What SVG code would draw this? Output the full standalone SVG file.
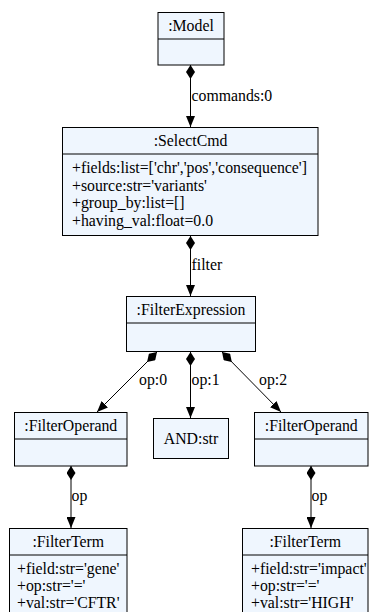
<svg xmlns="http://www.w3.org/2000/svg" width="377" height="612" viewBox="0 0 377 612">
<style>
.box{fill:#eff6fe;stroke:#000;stroke-width:1}
.t{font-family:'Liberation Serif','Times New Roman',serif;font-size:15.8px;fill:#000}
.c{text-anchor:middle}
.e{stroke:#000;stroke-width:1;fill:none;marker-start:url(#dia);marker-end:url(#arr)}
</style>
<defs>
<marker id="dia" viewBox="0 0 14 9" refX="0" refY="4.5" markerWidth="14" markerHeight="9" markerUnits="userSpaceOnUse" orient="auto"><path d="M0,4.5 L7,0 L14,4.5 L7,9 Z" fill="#000"/></marker>
<marker id="arr" viewBox="0 0 11 9" refX="11" refY="4.5" markerWidth="11" markerHeight="9" markerUnits="userSpaceOnUse" orient="auto"><path d="M0,0 L11,4.5 L0,9 Z" fill="#000"/></marker>
</defs>
<g id="edges">
<path class="e" d="M190.5,65 L190.5,127"/>
<text class="t" x="191.5" y="101">commands:0</text>
<path class="e" d="M190.5,236 L190.5,296"/>
<text class="t" x="191.5" y="270">filter</text>
<path class="e" d="M157,352 L97,412"/>
<text class="t" x="139" y="385">op:0</text>
<path class="e" d="M190.5,352 L190.5,418"/>
<text class="t" x="191.5" y="385">op:1</text>
<path class="e" d="M222,352 L281,412"/>
<text class="t" x="259" y="385">op:2</text>
<path class="e" d="M71,466 L71,528"/>
<text class="t" x="71.5" y="501">op</text>
<path class="e" d="M311,466 L311,528"/>
<text class="t" x="311.5" y="501">op</text>
</g>
<g id="model">
<rect class="box" x="158" y="12.5" width="66" height="52.5"/>
<line x1="158" y1="39" x2="224" y2="39" stroke="#000"/>
<text class="t c" x="191" y="31">:Model</text>
</g>
<g id="selectcmd">
<rect class="box" x="62.5" y="127.5" width="255.5" height="108"/>
<line x1="62.5" y1="154" x2="318" y2="154" stroke="#000"/>
<text class="t c" x="190.5" y="146">:SelectCmd</text>
<text class="t" x="72" y="173">+fields:list=['chr','pos','consequence']</text>
<text class="t" x="72" y="190.5">+source:str='variants'</text>
<text class="t" x="72" y="208">+group_by:list=[]</text>
<text class="t" x="72" y="225.5">+having_val:float=0.0</text>
</g>
<g id="filterexpression">
<rect class="box" x="126.5" y="296.5" width="129" height="55"/>
<line x1="126.5" y1="323" x2="255.5" y2="323" stroke="#000"/>
<text class="t c" x="191" y="315">:FilterExpression</text>
</g>
<g id="operand0">
<rect class="box" x="14.5" y="412.5" width="112.5" height="53.5"/>
<line x1="14.5" y1="439" x2="127" y2="439" stroke="#000"/>
<text class="t c" x="70.75" y="431">:FilterOperand</text>
</g>
<g id="andstr">
<rect class="box" x="153.5" y="418.5" width="75" height="40"/>
<text class="t c" x="191" y="444">AND:str</text>
</g>
<g id="operand2">
<rect class="box" x="254.5" y="412.5" width="113.5" height="53.5"/>
<line x1="254.5" y1="439" x2="368" y2="439" stroke="#000"/>
<text class="t c" x="311.25" y="431">:FilterOperand</text>
</g>
<g id="term0">
<rect class="box" x="9.5" y="528.5" width="117.5" height="100"/>
<line x1="9.5" y1="555" x2="127" y2="555" stroke="#000"/>
<text class="t c" x="68.25" y="547">:FilterTerm</text>
<text class="t" x="17" y="574">+field:str='gene'</text>
<text class="t" x="17" y="591">+op:str='='</text>
<text class="t" x="17" y="608">+val:str='CFTR'</text>
</g>
<g id="term2">
<rect class="box" x="242.5" y="528.5" width="125.5" height="100"/>
<line x1="242.5" y1="555" x2="368" y2="555" stroke="#000"/>
<text class="t c" x="305.25" y="547">:FilterTerm</text>
<text class="t" x="251" y="574">+field:str='impact'</text>
<text class="t" x="251" y="591">+op:str='='</text>
<text class="t" x="251" y="608">+val:str='HIGH'</text>
</g>
</svg>
